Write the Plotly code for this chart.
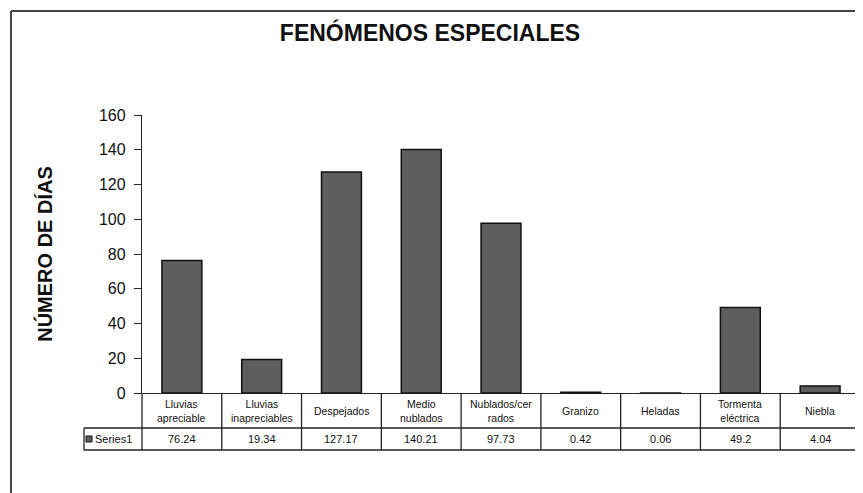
import plotly.graph_objects as go

categories = ["Lluvias apreciable", "Lluvias inapreciables", "Despejados", "Medio nublados",
              "Nublados/cerrados", "Granizo", "Heladas", "Tormenta eléctrica", "Niebla"]
table_labels = ["Lluvias<br>apreciable", "Lluvias<br>inapreciables", "Despejados", "Medio<br>nublados",
                "Nublados/cer<br>rados", "Granizo", "Heladas", "Tormenta<br>eléctrica", "Niebla"]
values = [76.24, 19.34, 127.17, 140.21, 97.73, 0.42, 0.06, 49.2, 4.04]
value_labels = ["76.24", "19.34", "127.17", "140.21", "97.73", "0.42", "0.06", "49.2", "4.04"]
series_name = "Series1"
y_ticks = [0, 20, 40, 60, 80, 100, 120, 140, 160]

FONT = "Liberation Sans, Arial, sans-serif"
OFF = 8  # default page body margin
W, H = 863 - OFF, 493 - OFF
# plot area in page pixels: x 142..860, y 115..393
L, R, T, B = 142 - OFF, W - (860 - OFF), 115 - OFF, H - (393 - OFF)
PW, PH = W - L - R, H - T - B

def px_x(p):
    return (p - OFF - L) / PW

def px_y(p):
    return (H - B - (p - OFF)) / PH

fig = go.Figure()
fig.add_trace(go.Bar(
    x=categories, y=values, name=series_name, width=0.5,
    marker=dict(color="#5e5e5e", line=dict(color="#111111", width=1.5)),
    showlegend=False,
))

n = len(categories)
shapes = []
line = dict(color="#222222", width=1.3)
for k in range(n + 1):
    shapes.append(dict(type="line", xref="paper", yref="paper",
                       x0=k / n, x1=k / n, y0=0, y1=px_y(450), line=line))
shapes.append(dict(type="line", xref="paper", yref="paper", x0=px_x(84), x1=1,
                   y0=px_y(428), y1=px_y(428), line=line))
shapes.append(dict(type="line", xref="paper", yref="paper", x0=px_x(84), x1=1,
                   y0=px_y(450), y1=px_y(450), line=line))
shapes.append(dict(type="line", xref="paper", yref="paper", x0=px_x(84), x1=px_x(84),
                   y0=px_y(428), y1=px_y(450), line=line))
shapes.append(dict(type="rect", xref="paper", yref="paper", x0=px_x(86), x1=px_x(92),
                   y0=px_y(442), y1=px_y(436), fillcolor="#5e5e5e",
                   line=dict(color="#111111", width=1)))
frame = dict(color="#444444", width=2)
shapes.append(dict(type="line", xref="paper", yref="paper", x0=px_x(11), x1=px_x(11),
                   y0=px_y(11), y1=px_y(510), line=frame))
shapes.append(dict(type="line", xref="paper", yref="paper", x0=px_x(11), x1=px_x(880),
                   y0=px_y(11), y1=px_y(11), line=frame))

annotations = []
for cat, lab, val in zip(categories, table_labels, value_labels):
    annotations.append(dict(x=cat, xref="x", y=px_y(411), yref="paper", text=lab,
                            showarrow=False, font=dict(family=FONT, size=10.5, color="#111"),
                            xanchor="center", yanchor="middle"))
    annotations.append(dict(x=cat, xref="x", y=px_y(439), yref="paper", text=val,
                            showarrow=False, font=dict(family=FONT, size=11, color="#111"),
                            xanchor="center", yanchor="middle"))
annotations.append(dict(x=px_x(93), xref="paper", y=px_y(439), yref="paper", text=series_name,
                        showarrow=False, font=dict(family=FONT, size=11, color="#111"),
                        xanchor="left", yanchor="middle"))

fig.update_layout(
    width=W, height=H,
    margin=dict(l=L, r=R, t=T, b=B),
    paper_bgcolor="white", plot_bgcolor="white",
    title=dict(text="<b>FENÓMENOS ESPECIALES</b>", x=(430 - OFF) / W, xanchor="center",
               y=1 - (33 - OFF) / H, yanchor="middle", font=dict(family=FONT, size=23, color="#111")),
    xaxis=dict(range=[-0.5, n - 0.5], showticklabels=False, ticks="", showgrid=False,
               showline=True, linecolor="#222", linewidth=1.3, zeroline=False, fixedrange=True),
    yaxis=dict(range=[0, 160], tickvals=y_ticks, ticks="outside", ticklen=7, tickwidth=1.3,
               tickcolor="#222", showgrid=False, showline=True, linecolor="#222", linewidth=1.3,
               zeroline=False, tickfont=dict(family=FONT, size=16, color="#111"),
               ticklabelstandoff=5,
               title=dict(text="<b>NÚMERO DE DÍAS</b>", standoff=40,
                          font=dict(family=FONT, size=20, color="#111"))),
    shapes=shapes, annotations=annotations, showlegend=False,
)

fig.write_html("out.html")
